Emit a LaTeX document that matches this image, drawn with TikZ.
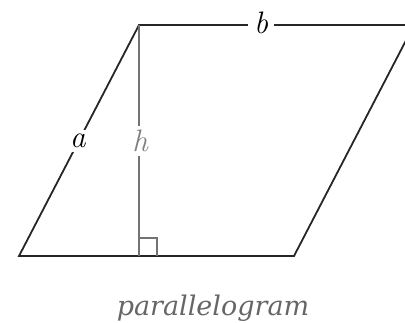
\documentclass[tikz,border=0pt]{standalone}
\usepackage{fontspec}
\newfontfamily\capfont{DejaVu Serif}
\usetikzlibrary{calc}
\begin{document}
\begin{tikzpicture}[x=1pt,y=1pt,
  edge/.style={line width=1.8pt,draw=black!85},
  hline/.style={line width=1.2pt,draw=black!55},
  lbl/.style={fill=white,inner xsep=6pt,inner ysep=4pt,font=\fontsize{31}{33}\selectfont\itshape},
  captxt/.style={text=black!60,font=\capfont\fontsize{27}{30}\selectfont\itshape}]
\useasboundingbox (0,0) rectangle (405,322);
\clip (0,0) rectangle (405,322);
\coordinate (BL) at (19,66);
\coordinate (BR) at (294,66);
\coordinate (TL) at (139,297);
\coordinate (TR) at (414,297);
\coordinate (F) at (139,66);
\draw[edge] (BL) -- (BR) -- (TR) -- (TL) -- cycle;
\draw[hline] (TL) -- (F);
\draw[hline] ($(F)+(0,18)$) -| ($(F)+(18,0)$);
\node[lbl] (a) at (78,181) {a};
\node[lbl,text=black!50] (h) at (140,181) {h};
\node[lbl] (b) at (261,299) {b};
\node[captxt,anchor=base] (c) at (213,7) {parallelogram};
\end{tikzpicture}
\end{document}
